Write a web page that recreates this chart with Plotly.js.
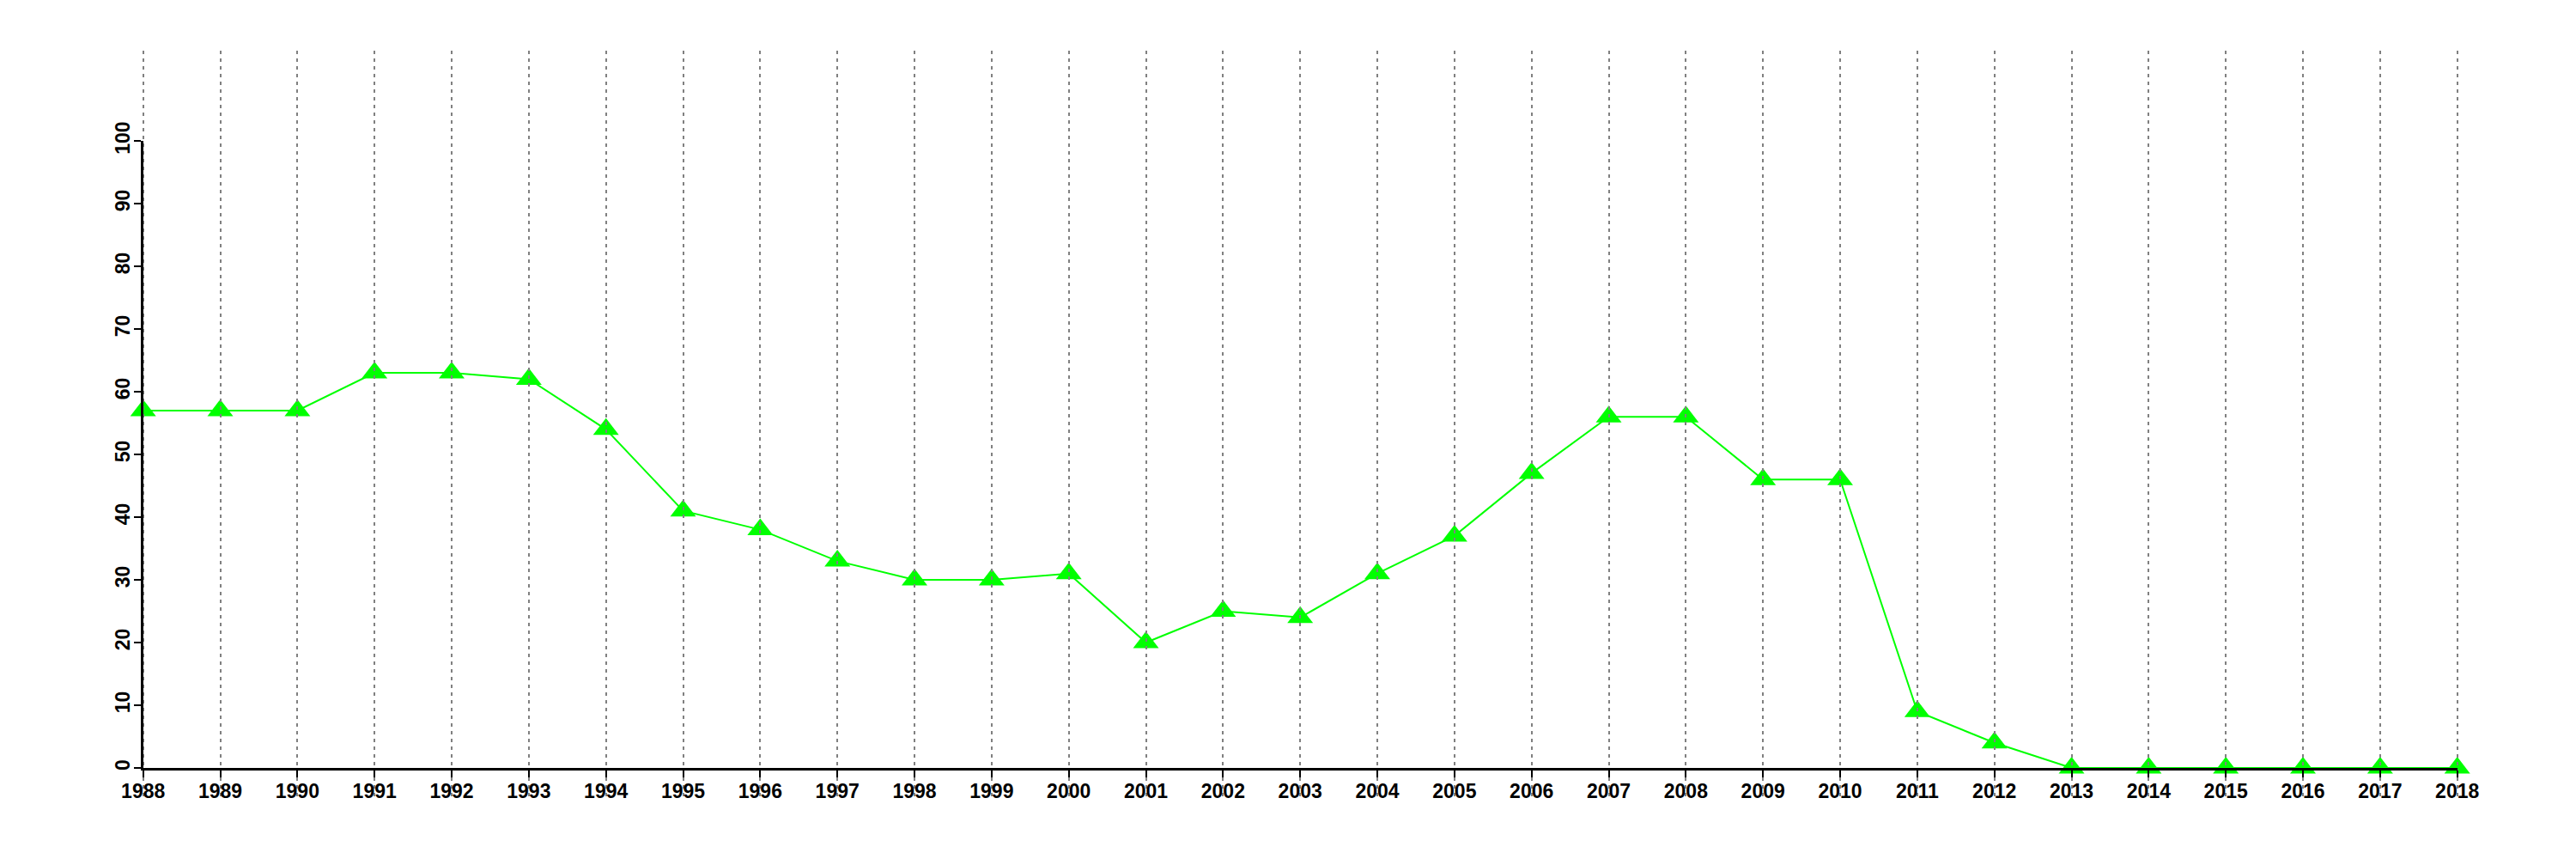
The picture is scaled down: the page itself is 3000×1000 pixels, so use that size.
<!DOCTYPE html>
<html>
<head>
<meta charset="utf-8">
<script src="https://cdn.plot.ly/plotly-3.0.1.min.js"></script>
<style>html,body{margin:0;padding:0;background:#fff;}</style>
</head>
<body>
<div id="chart" style="width:3000px;height:1000px;"></div>
<script>
const years = [1988,1989,1990,1991,1992,1993,1994,1995,1996,1997,1998,1999,2000,2001,2002,2003,2004,2005,2006,2007,2008,2009,2010,2011,2012,2013,2014,2015,2016,2017,2018];
const values = [57,57,57,63,63,62,54,41,38,33,30,30,31,20,25,24,31,37,47,56,56,46,46,9,4,0,0,0,0,0,0];
const yTicks = [0,10,20,30,40,50,60,70,80,90,100];
const xTickText = years.map(String);

const W = 3000, H = 1000;
const xL = 166.7, xR = 2861.7, yTop = 164, yBot = 894;
const gridTop = 59, gridBot = 927;
const pxPerYear = (xR - xL) / (years[years.length-1] - years[0]);
const xd = [xL / W, xR / W];
const xdGrid = [(xL - pxPerYear) / W, (xR + pxPerYear) / W];
const yd = [1 - yBot / H, 1 - yTop / H];
const ydGrid = [1 - gridBot / H, 1 - gridTop / H];

const tickFont = {family: 'Liberation Sans, Arial, Helvetica, sans-serif', size: 23, color: '#000', weight: 700};

const traces = [
  {
    type: 'scatter', mode: 'lines+markers', x: years, y: values,
    xaxis: 'x', yaxis: 'y', cliponaxis: false,
    line: {color: '#00ff00', width: 2},
    marker: {symbol: 'triangle-up', size: 26, color: '#00ff00'},
    hoverinfo: 'x+y', showlegend: false
  },
  {type: 'scatter', mode: 'markers', x: [null], y: [null], xaxis: 'x2', yaxis: 'y2', hoverinfo: 'skip', showlegend: false},
  {type: 'scatter', mode: 'markers', x: [null], y: [null], xaxis: 'x3', yaxis: 'y3', hoverinfo: 'skip', showlegend: false}
];

const layout = {
  width: W, height: H,
  margin: {l: 0, r: 0, t: 0, b: 0, pad: 0},
  paper_bgcolor: '#ffffff', plot_bgcolor: 'rgba(0,0,0,0)',
  showlegend: false,
  xaxis: {domain: xd, range: [years[0], years[years.length-1]], visible: false, anchor: 'y', fixedrange: true},
  yaxis: {domain: yd, range: [0, 100], visible: false, anchor: 'x', fixedrange: true},
  xaxis2: {
    domain: xdGrid, range: [years[0]-1, years[years.length-1]+1], anchor: 'y2',
    tickmode: 'array', tickvals: years, showticklabels: false, ticks: '',
    showgrid: true, gridcolor: '#808080', gridwidth: 2, griddash: '4px,5px',
    showline: false, zeroline: false, fixedrange: true
  },
  yaxis2: {domain: ydGrid, range: [0, 1], anchor: 'x2', showgrid: false, zeroline: false, showline: false, showticklabels: false, ticks: '', fixedrange: true},
  xaxis3: {
    domain: xd, range: [years[0], years[years.length-1]], anchor: 'y3',
    tickmode: 'array', tickvals: years, ticktext: xTickText, tickangle: 0,
    ticks: 'outside', ticklen: 8, tickwidth: 2, tickcolor: '#000',
    showline: true, linecolor: '#000', linewidth: 2.5,
    showgrid: false, zeroline: false, tickfont: tickFont, fixedrange: true,
    ticklabelstandoff: -3
  },
  yaxis3: {
    domain: yd, range: [0, 100], anchor: 'x3',
    tickmode: 'array', tickvals: yTicks, ticktext: yTicks.map(String), tickangle: -90,
    ticks: 'outside', ticklen: 8, tickwidth: 2, tickcolor: '#000',
    showline: true, linecolor: '#000', linewidth: 2.5,
    showgrid: false, zeroline: false, tickfont: tickFont, fixedrange: true,
    ticklabelstandoff: -4
  }
};

Plotly.newPlot('chart', traces, layout, {displayModeBar: false, staticPlot: true});
</script>
</body>
</html>
